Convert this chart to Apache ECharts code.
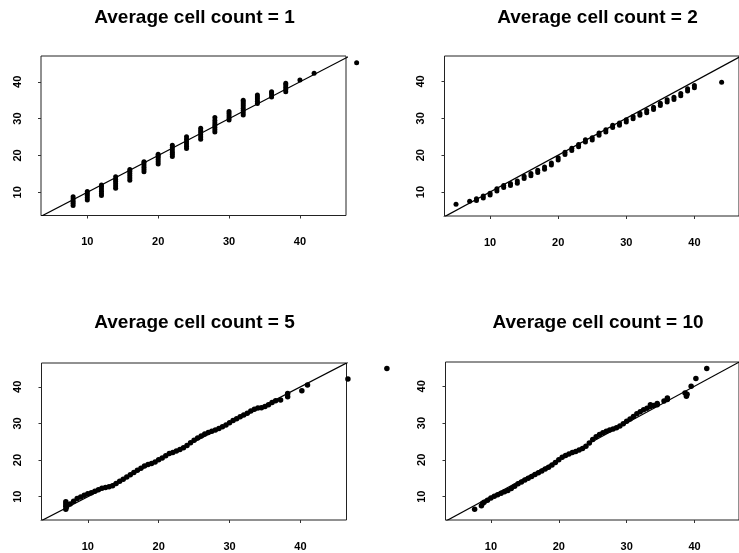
<!DOCTYPE html>
<html>
<head>
<meta charset="utf-8">
<script src="https://cdn.jsdelivr.net/npm/echarts@6/dist/echarts.min.js"></script>
<style>
html,body{margin:0;padding:0;background:#fff;}
#chart{width:739px;height:553px;}
</style>
</head>
<body>
<div id="chart"></div>
<script>
// ---------- data ----------
const panelTitles = ['Average cell count = 1', 'Average cell count = 2', 'Average cell count = 5', 'Average cell count = 10'];
const tickValues = [10, 20, 30, 40];
const identityEnds = [0, 60];

// Average cell count = 1 : [x, y]
const count1Points = [
  [8,6.4],[8,7.0],[8,7.6],[8,8.2],[8,8.8],
  [10,7.9],[10,8.5],[10,9.1],[10,9.7],[10,10.2],
  [12,9.1],[12,9.7],[12,10.3],[12,10.9],[12,11.5],[12,12.0],
  [14,11.1],[14,11.7],[14,12.3],[14,12.9],[14,13.5],[14,14.2],
  [16,13.3],[16,13.9],[16,14.5],[16,15.1],[16,15.7],[16,16.2],
  [18,15.6],[18,16.2],[18,16.8],[18,17.4],[18,18.0],[18,18.3],
  [20,17.7],[20,18.3],[20,18.9],[20,19.5],[20,20.0],[20,20.3],
  [22,19.7],[22,20.3],[22,20.9],[22,21.5],[22,22.1],[22,22.8],
  [24,21.9],[24,22.5],[24,23.1],[24,23.7],[24,24.4],[24,25.1],
  [26,24.4],[26,25.0],[26,25.6],[26,26.2],[26,26.8],[26,27.4],
  [28,26.4],[28,27.0],[28,27.6],[28,28.2],[28,28.8],[28,29.5],[28,30.3],
  [30,29.6],[30,30.2],[30,30.8],[30,31.4],[30,31.9],
  [32,31.0],[32,31.6],[32,32.2],[32,32.8],[32,33.4],[32,34.0],[32,34.5],[32,35.0],
  [34,34.1],[34,34.7],[34,35.3],[34,35.9],[34,36.4],
  [36,35.9],[36,36.5],[36,37.0],[36,37.3],
  [38,37.3],[38,37.9],[38,38.5],[38,39.1],[38,39.6],
  [40,40.5],[42,42.3],[48,45.2]
];

// Average cell count = 2 : [x, y]
const count2Points = [
  [5,6.7],[7,7.5],[8,8.2],[8,7.7],[9,8.9],[9,8.4],[10,9.7],[10,9.2],
  [11,10.9],[11,10.3],[12,11.8],[12,11.2],[13,12.3],[13,11.8],[14,13.0],[14,12.4],
  [15,14.3],[15,13.7],[16,15.0],[16,14.4],[17,15.9],[17,15.3],[18,16.8],[18,16.2],
  [19,17.9],[19,17.3],[20,19.3],[20,18.7],[21,20.8],[21,20.2],[22,21.9],[22,21.3],
  [23,22.9],[23,22.3],[24,24.2],[24,23.6],[25,24.7],[25,24.1],[26,26.0],[26,25.4],
  [27,26.9],[27,26.3],[28,28.1],[28,27.5],[29,28.7],[29,28.1],[30,29.6],[30,29.0],
  [31,30.5],[31,29.9],[32,31.4],[32,30.8],[33,32.1],[33,31.5],[34,33.0],[34,32.4],
  [35,34.1],[35,33.5],[36,35.0],[36,34.4],[37,35.7],[37,35.1],[38,36.7],[38,36.1],
  [39,38.0],[39,37.4],[40,38.9],[40,38.3],[44,39.8]
];

// Average cell count = 5 : [x, y]
const count5Points = [
  [6.9,6.6],[6.9,7.4],[6.9,8.0],[6.9,8.6],[7.0,7.2],[7.5,8.0],[8.0,8.8],[8.5,9.5],
  [9.0,9.9],[9.5,10.4],[10.0,10.8],[10.5,11.1],[11.0,11.5],[11.5,11.9],[12.0,12.3],
  [12.5,12.5],[13.0,12.7],[13.5,13.0],[14.0,13.6],[14.5,14.2],[15.0,14.8],[15.5,15.4],
  [16.0,16.0],[16.5,16.6],[17.0,17.2],[17.5,17.8],[18.0,18.4],[18.5,18.8],[19.0,19.1],
  [19.5,19.5],[20.0,20.1],[20.5,20.6],[21.0,21.2],[21.5,21.8],[22.0,22.1],[22.5,22.5],
  [23.0,22.9],[23.5,23.4],[24.0,24.0],[24.5,24.7],[25.0,25.4],[25.5,26.0],[26.0,26.6],
  [26.5,27.1],[27.0,27.5],[27.5,27.9],[28.0,28.2],[28.5,28.6],[29.0,29.1],[29.5,29.6],
  [30.0,30.2],[30.5,30.8],[31.0,31.3],[31.5,31.8],[32.0,32.3],[32.5,32.8],[33.0,33.4],
  [33.5,33.9],[34.0,34.2],[34.5,34.3],[35.0,34.6],[35.5,35.1],[36.0,35.7],[36.5,36.2],
  [37.2,36.4],[38.2,37.3],[38.2,38.2],[40.2,38.9],[41.0,40.5],[46.7,42.1],[52.2,45.0]
];

// Average cell count = 10 : [x, y]
const count10Points = [
  [7.6,6.6],[8.6,7.5],[8.8,8.2],
  [9.0,8.5],[9.5,9.0],[10.0,9.6],[10.5,10.1],[11.0,10.5],[11.5,10.9],[12.0,11.3],
  [12.5,11.7],[13.0,12.2],[13.5,12.8],[14.0,13.5],[14.5,14.0],[15.0,14.5],[15.5,15.0],
  [16.0,15.5],[16.5,16.0],[17.0,16.5],[17.5,17.0],[18.0,17.5],[18.5,18.0],[19.0,18.6],
  [19.5,19.3],[20.0,20.0],[20.5,20.7],[21.0,21.2],[21.5,21.6],[22.0,22.0],[22.5,22.3],
  [23.0,22.7],[23.5,23.1],[24.0,23.7],[24.5,24.6],[25.0,25.5],[25.5,26.3],[26.0,26.9],
  [26.5,27.4],[27.0,27.8],[27.5,28.1],[28.0,28.4],[28.5,28.7],[29.0,29.2],[29.5,29.8],
  [30.0,30.5],[30.5,31.1],[31.0,31.8],[31.5,32.5],[32.0,33.1],[32.5,33.6],[33.0,34.0],
  [33.5,34.5],[33.5,35.0],[34.0,34.8],[34.5,35.0],[34.5,35.3],[35.5,36.0],[36.0,36.4],[36.0,36.8],
  [38.6,38.2],[38.8,37.3],[38.9,37.8],[39.5,40.0],[40.2,42.1],[41.8,44.8]
];

// ---------- layout ----------
const panels = [
  {data: count1Points, left: 41, top: 56, width: 305, height: 159.5, xMin: 3.47, xMax: 46.5, yMin: 3.7, yMax: 47.0, titleX: 194.5, titleTop: 8, size: 5},
  {data: count2Points, left: 444.5, top: 56, width: 305, height: 160, xMin: 3.31, xMax: 46.55, yMin: 3.5, yMax: 46.9, titleX: 597.5, titleTop: 8, size: 5},
  {data: count5Points, left: 41.5, top: 363, width: 305, height: 157, xMin: 3.47, xMax: 46.5, yMin: 3.65, yMax: 46.5, titleX: 194.5, titleTop: 313, size: 5.5},
  {data: count10Points, left: 445.5, top: 362, width: 305, height: 158, xMin: 3.31, xMax: 46.55, yMin: 3.65, yMax: 46.6, titleX: 598, titleTop: 313, size: 5.5}
];

const fontFamily = '"Liberation Sans", Arial, Helvetica, sans-serif';
const ink = '#000';

const option = {
  backgroundColor: '#fff',
  animation: false,
  title: panels.map((p, i) => ({
    text: panelTitles[i],
    left: p.titleX,
    top: p.titleTop,
    textAlign: 'center',
    padding: 0,
    textStyle: {fontFamily, fontWeight: 'bold', fontSize: 19, color: ink}
  })),
  grid: panels.map(p => ({
    left: p.left, top: p.top, width: p.width, height: p.height,
    show: true, borderColor: '#222', borderWidth: 1, backgroundColor: 'transparent',
    containLabel: false
  })),
  xAxis: panels.map((p, i) => ({
    type: 'value', gridIndex: i, min: p.xMin, max: p.xMax,
    splitLine: {show: false},
    axisLine: {show: false},
    axisTick: {show: true, length: 3, customValues: tickValues, lineStyle: {color: '#333'}},
    axisLabel: {customValues: tickValues, margin: 21, fontFamily, fontWeight: 'bold', fontSize: 11, color: ink}
  })),
  yAxis: panels.map((p, i) => ({
    type: 'value', gridIndex: i, min: p.yMin, max: p.yMax,
    splitLine: {show: false},
    axisLine: {show: false},
    axisTick: {show: true, length: 3, customValues: tickValues, lineStyle: {color: '#333'}},
    axisLabel: {customValues: tickValues, rotate: 90, margin: 18, fontFamily, fontWeight: 'bold', fontSize: 11, color: ink}
  })),
  series: panels.flatMap((p, i) => [
    {
      type: 'scatter', xAxisIndex: i, yAxisIndex: i, data: p.data,
      symbol: 'circle', symbolSize: p.size, clip: false,
      itemStyle: {color: ink, opacity: 1}, silent: true
    },
    {
      type: 'line', xAxisIndex: i, yAxisIndex: i,
      data: identityEnds.map(v => [v, v]),
      showSymbol: false, clip: true,
      lineStyle: {color: ink, width: 1.2}, silent: true
    }
  ])
};

const chart = echarts.init(document.getElementById('chart'), null, {renderer: 'canvas'});
chart.setOption(option);
</script>
</body>
</html>
